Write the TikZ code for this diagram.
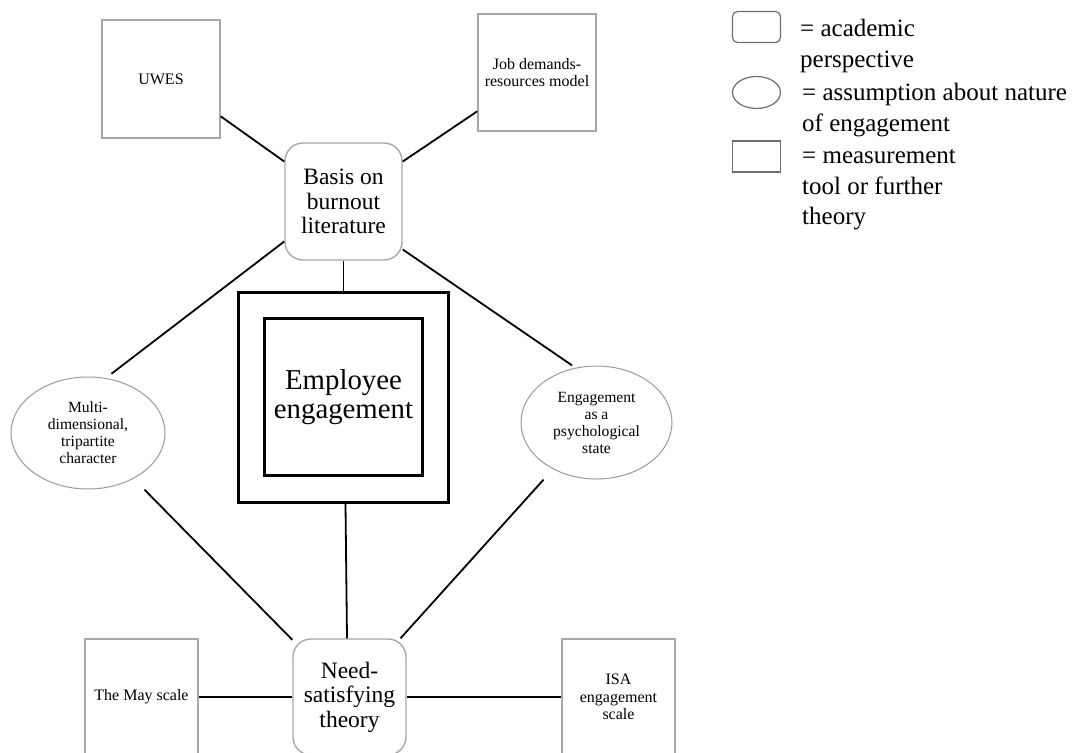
\documentclass[tikz,border=0pt]{standalone}
\usepackage{fontspec}
\setmainfont{Liberation Serif}
\usetikzlibrary{shapes.geometric}
\definecolor{boxgray}{HTML}{A8A8A8}
\definecolor{ovalgray}{HTML}{9A9A9A}
\definecolor{keygray}{HTML}{6E6E6E}
\begin{document}
\begin{tikzpicture}[x=1pt,y=-1pt,
  tool/.style={draw=boxgray, line width=1.4pt, minimum width=118pt, minimum height=118pt,
    inner sep=2pt, align=center, font=\fontsize{16}{17.5}\selectfont},
  persp/.style={draw=boxgray, line width=1.4pt, rounded corners=18pt, inner sep=0pt,
    minimum width=117pt, minimum height=117pt, align=center,
    font=\fontsize{23.5}{24.5}\selectfont},
  assume/.style={ellipse, draw=ovalgray, line width=1pt, inner sep=0pt, align=center,
    font=\fontsize{15.6}{17}\selectfont},
  core/.style={draw=black, line width=3pt, inner sep=0pt},
  link/.style={draw=black, line width=1.8pt},
  keyshape/.style={draw=keygray, line width=1.2pt, inner sep=0pt,
    minimum width=48pt, minimum height=31pt},
  keytext/.style={anchor=north west, align=left, inner sep=0pt,
    font=\fontsize{25}{30.5}\selectfont}
]
\fill[white] (0,0) rectangle (1088,753);
\useasboundingbox (0,0) rectangle (1088,753);

% measurement tools and further theories
\node[tool] (uwes) at (161,79) {UWES};
\node[tool, minimum height=117pt] (jdr) at (537,72.5) {Job demands-\\resources model};
\node[tool, minimum width=113pt, minimum height=116pt] (may) at (141.5,697) {The May scale};
\node[tool, minimum width=113pt, minimum height=116pt] (isa) at (618.5,697) {ISA\\engagement\\scale};

% academic perspectives
\node[persp] (basis) at (343.5,201.5) {Basis on\\burnout\\literature};
\node[persp, minimum width=113pt, minimum height=116pt] (need) at (349.5,697) {Need-\\satisfying\\theory};

% assumptions about the nature of engagement
\node[assume, minimum width=154pt, minimum height=112pt] (lell) at (88,433)
  {Multi-\\dimensional,\\tripartite\\character};
\node[assume, minimum width=151pt, minimum height=113pt] (rell) at (596.5,422.5)
  {Engagement\\as a\\psychological\\state};

% central concept
\node[core, minimum width=210pt, minimum height=210pt] (outer) at (343.5,397.5) {};
\node[core, minimum width=158pt, minimum height=157pt,
  font=\fontsize{28.8}{28.5}\selectfont, align=center] (inner) at (343.5,397)
  {Employee\\engagement};

% connectors
\draw[link] (uwes.-32) -- (basis.146);
\draw[link] (jdr.-147) -- (basis.34);
\draw[link, shorten >=7pt] (basis.-146) -- (lell.72);
\draw[link, shorten >=4pt] (basis.-39) -- (rell.111);
\draw[link] (basis.south) -- (outer.north);
\draw[link] ([xshift=2pt]outer.south) -- ([xshift=-2.5pt]need.north);
\draw[link, shorten <=15.5pt] (lell.-45) -- (need.135);
\draw[link, shorten <=14pt] (rell.-133) -- (need.49);
\draw[link] (may.east) -- (need.west);
\draw[link] (need.east) -- (isa.west);

% key
\node[keyshape, rounded corners=5pt] (kpersp) at (756.5,27) {};
\node[keyshape, ellipse, minimum height=32pt] (kassume) at (756.5,92.5) {};
\node[keyshape] (ktool) at (756.5,156.5) {};
\node[keytext] (kpersptext) at (800,19) {= academic\\perspective};
\node[keytext] (kassumetext) at (802,83) {= assumption about nature\\of engagement};
\node[keytext] (ktooltext) at (802,149.5) {= measurement\\tool or further\\theory};
\end{tikzpicture}
\end{document}
